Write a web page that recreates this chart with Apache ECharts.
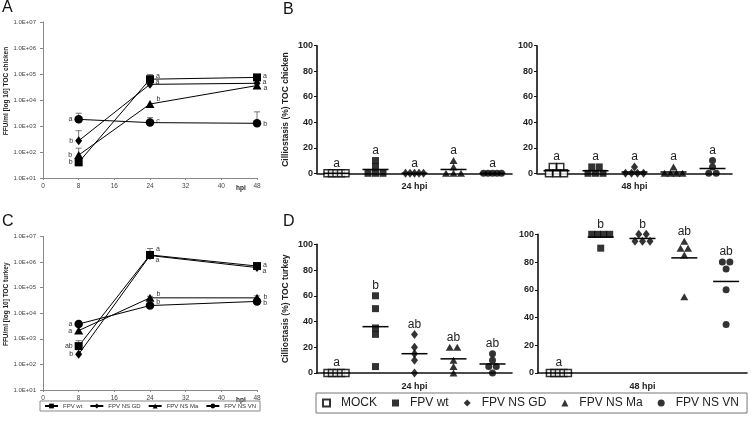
<!DOCTYPE html>
<html><head><meta charset="utf-8">
<script src="https://cdn.jsdelivr.net/npm/echarts@6/dist/echarts.min.js"></script>
<style>html,body{margin:0;padding:0;background:#fff}#c{width:754px;height:425px}</style>
</head><body><div id="c"></div>
<script>
// ---------------- DATA ----------------
const hpi = [8, 24, 48];
const xTickLabels = ['0', '8', '16', '24', '32', '40', '48'];
const logTickLabels = ['1.0E+01', '1.0E+02', '1.0E+03', '1.0E+04', '1.0E+05', '1.0E+06', '1.0E+07'];
const lineGroups = ['FPV wt', 'FPV NS GD', 'FPV NS Ma', 'FPV NS VN'];

// Panel A: FFU/ml, TOC chicken
const chickWt = [40, 63000, 74000];
const chickGd = [270, 40000, 44000];
const chickMa = [76, 7000, 36000];
const chickVn = [1800, 1350, 1270];
const chickWtErr = [null, 95000, 85000];
const chickGdErr = [660, null, null];
const chickMaErr = [140, null, null];
const chickVnErr = [3100, 2100, 3500];
const chickWtSig = ['b', 'a', 'a'];
const chickGdSig = ['b', 'a', 'a'];
const chickMaSig = ['b', 'b', 'a'];
const chickVnSig = ['a', 'c', 'b'];

// Panel C: FFU/ml, TOC turkey
const turkWt = [520, 1900000, 700000];
const turkGd = [250, 1800000, 610000];
const turkMa = [2100, 40000, 40000];
const turkVn = [3800, 20000, 29000];
const turkWtErr = [850, 3400000, 800000];
const turkGdErr = [null, null, null];
const turkMaErr = [null, 46000, 48000];
const turkVnErr = [4800, null, null];
const turkWtSig = ['ab', 'a', 'a'];
const turkGdSig = ['b', 'a', 'a'];
const turkMaSig = ['a', 'b', 'b'];
const turkVnSig = ['a', 'b', 'b'];

// Ciliostasis categories
const catNames = ['MOCK', 'FPV wt', 'FPV NS GD', 'FPV NS Ma', 'FPV NS VN'];

// Panel B: chicken, 24 hpi
const chick24Mock = [0, 0, 0, 0, 0];
const chick24Wt = [10, 5, 0, 0, 0];
const chick24Gd = [0, 0, 0, 0, 0];
const chick24Ma = [10, 5, 0, 0, 0];
const chick24Vn = [0, 0, 0, 0, 0];
const chick24Sig = ['a', 'a', 'a', 'a', 'a'];
// Panel B: chicken, 48 hpi
const chick48Mock = [5, 5, 0, 0, 0];
const chick48Wt = [5, 5, 0, 0, 0];
const chick48Gd = [5, 0, 0, 0, 0];
const chick48Ma = [5, 0, 0, 0, 0];
const chick48Vn = [10, 5, 0, 0];
const chick48Sig = ['a', 'a', 'a', 'a', 'a'];
// Panel D: turkey, 24 hpi
const turk24Mock = [0, 0, 0, 0, 0];
const turk24Wt = [60, 50, 35, 30, 5];
const turk24Gd = [30, 20, 15, 10, 0];
const turk24Ma = [20, 20, 10, 5, 0];
const turk24Vn = [15, 10, 5, 5, 0];
const turk24Sig = ['a', 'b', 'ab', 'ab', 'ab'];
// Panel D: turkey, 48 hpi
const turk48Mock = [0, 0, 0, 0, 0];
const turk48Wt = [100, 100, 100, 100, 90];
const turk48Gd = [100, 100, 95, 95, 95];
const turk48Ma = [95, 90, 90, 85, 55];
const turk48Vn = [80, 80, 75, 60, 35];
const turk48Sig = ['a', 'b', 'b', 'ab', 'ab'];

// ---------------- CHART ----------------
const FONT = '"Liberation Sans", Arial, sans-serif';
const chart = echarts.init(document.getElementById('c'));

const grids = [
  {left: 43, top: 22, width: 214, height: 156},
  {left: 43, top: 236.5, width: 214, height: 153.5},
  {left: 317, top: 45.7, width: 195, height: 127.6},
  {left: 537, top: 45.7, width: 195, height: 127.6},
  {left: 317, top: 244.3, width: 195, height: 128.7},
  {left: 538, top: 234.3, width: 209, height: 138.7}
];

function lineX(i) {
  return {gridIndex: i, type: 'value', min: 0, max: 48, interval: 8,
    axisLine: {lineStyle: {color: '#888', width: 1}},
    axisTick: {length: 2, lineStyle: {color: '#888'}},
    axisLabel: {fontSize: 6.5, color: '#444', margin: 5, fontFamily: FONT,
      formatter: v => xTickLabels[Math.round(v / 8)]},
    splitLine: {show: false},
    name: 'hpi', nameLocation: 'end', nameGap: -21,
    nameTextStyle: {fontSize: 6.5, fontWeight: 'bold', color: '#222', fontFamily: FONT,
      verticalAlign: 'top', padding: [7, 0, 0, 0]}};
}
function logY(i, name) {
  return {gridIndex: i, type: 'log', logBase: 10, min: 10, max: 1e7,
    axisLine: {show: true, lineStyle: {color: '#888', width: 1}},
    axisTick: {show: true, length: 3, lineStyle: {color: '#888'}},
    axisLabel: {fontSize: 6, color: '#444', margin: 7, fontFamily: FONT,
      formatter: v => logTickLabels[Math.round(Math.log10(v)) - 1]},
    splitLine: {show: false}, minorTick: {show: false},
    name: name, nameLocation: 'middle', nameGap: 31,
    nameTextStyle: {fontSize: 6.5, fontWeight: 'bold', color: '#222', fontFamily: FONT,
      padding: [0, 0, 0, 18]}};
}
function catX(i, name) {
  return {gridIndex: i, type: 'category', data: catNames, boundaryGap: true,
    axisLine: {lineStyle: {color: '#111', width: 1.6}},
    axisTick: {alignWithLabel: true, length: 3, lineStyle: {color: '#111', width: 1}},
    axisLabel: {show: false}, splitLine: {show: false},
    name: name, nameLocation: 'middle', nameGap: 9,
    nameTextStyle: {fontSize: 9, fontWeight: 'bold', color: '#222', fontFamily: FONT}};
}
function pctY(i, name) {
  return {gridIndex: i, type: 'value', min: 0, max: 100, interval: 20,
    axisLine: {show: true, lineStyle: {color: '#111', width: 1.6}},
    axisTick: {show: true, length: 3, lineStyle: {color: '#111', width: 1}},
    axisLabel: {fontSize: 9, fontWeight: 'bold', color: '#222', margin: 4, fontFamily: FONT},
    splitLine: {show: false},
    name: name || '', nameLocation: 'middle', nameGap: 27,
    nameTextStyle: {fontSize: 8.5, fontWeight: 'bold', color: '#222', fontFamily: FONT}};
}

const lineSym = [
  {symbol: 'rect', size: 8},
  {symbol: 'diamond', size: [7, 9]},
  {symbol: 'triangle', size: [9, 8]},
  {symbol: 'circle', size: 8.5}
];

function lineSeries(gi, vals, sig, ax, dys) {
  return {type: 'line', name: lineGroups[gi], xAxisIndex: ax, yAxisIndex: ax,
    symbol: lineSym[gi].symbol, symbolSize: lineSym[gi].size, showAllSymbol: true,
    lineStyle: {color: '#000', width: 1}, itemStyle: {color: '#000'}, z: 3,
    label: {fontSize: 7, color: '#333', fontFamily: FONT},
    data: vals.map((v, k) => ({value: [hpi[k], v], label: {show: true, formatter: sig[k],
      position: k === 0 ? 'left' : 'right', distance: 2, offset: [0, dys[k]]}}))};
}
function errSeries(ax, valsList, errList) {
  const data = [];
  valsList.forEach((vals, g) => vals.forEach((v, k) => {
    if (errList[g][k] != null) data.push([hpi[k], v, errList[g][k]]);
  }));
  return {type: 'custom', xAxisIndex: ax, yAxisIndex: ax, z: 2, silent: true,
    data: data,
    renderItem: (p, api) => {
      const a = api.coord([api.value(0), api.value(1)]);
      const b = api.coord([api.value(0), api.value(2)]);
      const st = {stroke: '#555', lineWidth: 0.8};
      return {type: 'group', children: [
        {type: 'line', shape: {x1: a[0], y1: a[1], x2: b[0], y2: b[1]}, style: st},
        {type: 'line', shape: {x1: b[0] - 3, y1: b[1], x2: b[0] + 3, y2: b[1]}, style: st}
      ]};
    }};
}

const scatSym = [
  {symbol: 'rect', size: 7, style: {color: '#fff', borderColor: '#000', borderWidth: 1.5}},
  {symbol: 'rect', size: 7, style: {color: '#000'}},
  {symbol: 'diamond', size: [7, 9], style: {color: '#000'}},
  {symbol: 'triangle', size: [8, 7], style: {color: '#000'}},
  {symbol: 'circle', size: 7, style: {color: '#000'}}
];
function swarm(vals) {
  const rows = {}, seen = {};
  vals.forEach(v => { rows[v] = (rows[v] || 0) + 1; });
  return vals.map(v => {
    const n = rows[v];
    const k = (seen[v] = (seen[v] || 0) + 1) - 1;
    const s = n > 1 ? Math.min(7.5, 18 / (n - 1)) : 0;
    return (k - (n - 1) / 2) * s;
  });
}
function scatterPanel(ax, groupVals, sig) {
  const out = [];
  groupVals.forEach((vals, gi) => {
    const off = swarm(vals);
    out.push({type: 'scatter', name: 'D:' + catNames[gi], xAxisIndex: ax, yAxisIndex: ax,
      symbol: scatSym[gi].symbol, symbolSize: scatSym[gi].size, itemStyle: scatSym[gi].style, z: 3,
      data: vals.map((v, k) => ({value: [gi, v], symbolOffset: [off[k], 0]}))});
  });
  const summary = groupVals.map((vals, gi) => [gi,
    vals.reduce((a, b) => a + b, 0) / vals.length, Math.max.apply(null, vals)]);
  out.push({type: 'custom', xAxisIndex: ax, yAxisIndex: ax, z: 4, silent: true, clip: false,
    data: summary,
    renderItem: (p, api) => {
      const m = api.coord([api.value(0), api.value(1)]);
      const t = api.coord([api.value(0), api.value(2)]);
      return {type: 'group', children: [
        {type: 'line', shape: {x1: m[0] - 13, y1: m[1], x2: m[0] + 13, y2: m[1]},
          style: {stroke: '#000', lineWidth: 1.5}},
        {type: 'text', style: {text: sig[p.dataIndex], x: t[0], y: t[1] - 4,
          align: 'center', verticalAlign: 'bottom', fontSize: 12, fontFamily: FONT, fill: '#222'}}
      ]};
    }});
  return out;
}

const series = [
  errSeries(0, [chickWt, chickGd, chickMa, chickVn], [chickWtErr, chickGdErr, chickMaErr, chickVnErr]),
  lineSeries(0, chickWt, chickWtSig, 0, [0, -3, -1]),
  lineSeries(1, chickGd, chickGdSig, 0, [0, -2, -1]),
  lineSeries(2, chickMa, chickMaSig, 0, [0, -5, 3]),
  lineSeries(3, chickVn, chickVnSig, 0, [0, -2, 1]),
  errSeries(1, [turkWt, turkGd, turkMa, turkVn], [turkWtErr, turkGdErr, turkMaErr, turkVnErr]),
  lineSeries(0, turkWt, turkWtSig, 1, [0, -6, -1]),
  lineSeries(1, turkGd, turkGdSig, 1, [0, 5, 3]),
  lineSeries(2, turkMa, turkMaSig, 1, [0, -4, -1]),
  lineSeries(3, turkVn, turkVnSig, 1, [0, -3, 2])
].concat(
  scatterPanel(2, [chick24Mock, chick24Wt, chick24Gd, chick24Ma, chick24Vn], chick24Sig),
  scatterPanel(3, [chick48Mock, chick48Wt, chick48Gd, chick48Ma, chick48Vn], chick48Sig),
  scatterPanel(4, [turk24Mock, turk24Wt, turk24Gd, turk24Ma, turk24Vn], turk24Sig),
  scatterPanel(5, [turk48Mock, turk48Wt, turk48Gd, turk48Ma, turk48Vn], turk48Sig)
);

const panelLetter = (t, l, tp) => ({type: 'text', left: l, top: tp,
  style: {text: t, fontSize: 16, fontFamily: FONT, fill: '#111'}});

chart.setOption({
  animation: false,
  backgroundColor: '#fff',
  grid: grids,
  xAxis: [lineX(0), lineX(1), catX(2, '24 hpi'), catX(3, '48 hpi'), catX(4, '24 hpi'), catX(5, '48 hpi')],
  yAxis: [logY(0, 'FFU/ml [log 10] TOC chicken'), logY(1, 'FFU/ml [log 10] TOC turkey'),
    pctY(2, 'Cilliostasis (%) TOC chicken'), pctY(3), pctY(4, 'Cilliostasis (%) TOC turkey'), pctY(5)],
  legend: [
    {data: lineGroups, left: 40, top: 401, orient: 'horizontal', itemGap: 7,
      itemWidth: 13, itemHeight: 6, selectedMode: false,
      textStyle: {fontSize: 6, color: '#333', fontFamily: FONT, padding: [0, 0, 0, 0]},
      padding: [2, 4, 2, 4], borderColor: '#888', borderWidth: 1},
    {data: catNames.map(n => 'D:' + n), formatter: n => n.slice(2),
      left: 316, top: 393, orient: 'horizontal', itemGap: 15,
      itemWidth: 7, itemHeight: 7, selectedMode: false,
      textStyle: {fontSize: 12, color: '#222', fontFamily: FONT, padding: [0, 0, 0, 6]},
      padding: [4, 8, 4, 6], borderColor: '#777', borderWidth: 1}
  ],
  graphic: [panelLetter('A', 2, 0), panelLetter('B', 283, 2), panelLetter('C', 2, 214), panelLetter('D', 283, 214)],
  series: series
});
</script></body></html>
